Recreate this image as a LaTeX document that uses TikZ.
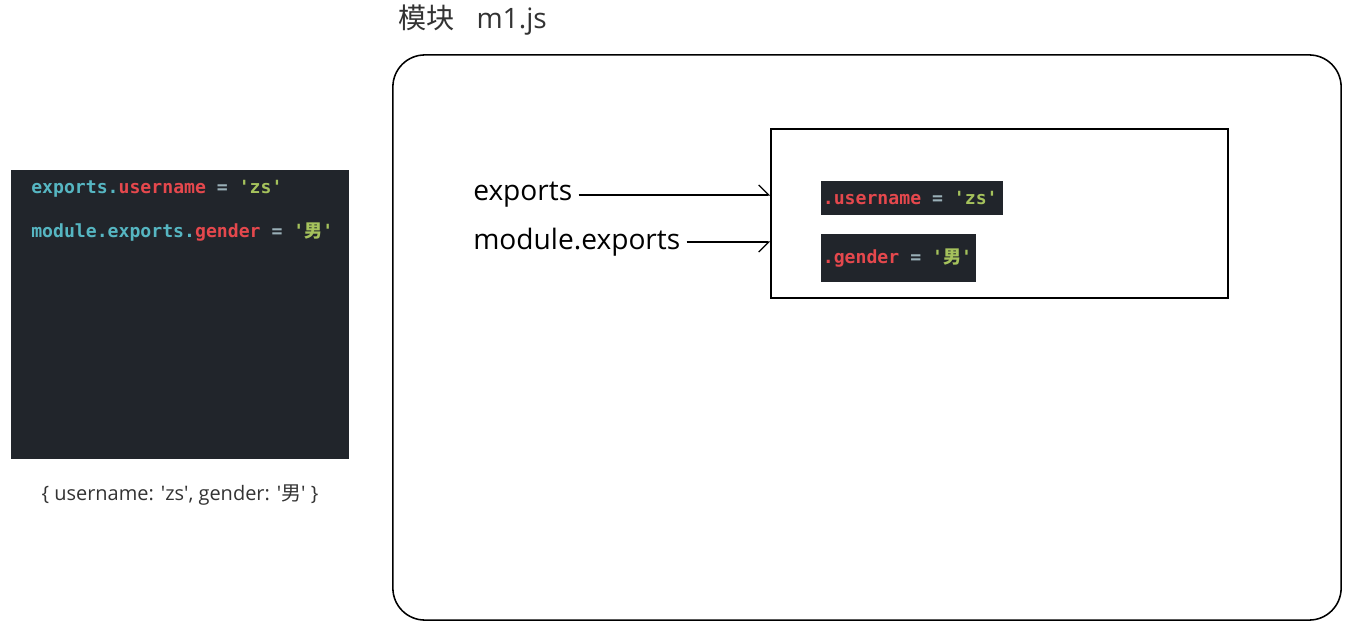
\documentclass[tikz,border=0pt]{standalone}
\usepackage{fontspec}
\setmainfont{Open Sans}
\setmonofont{DejaVu Sans Mono}
\newfontfamily\cjk{Noto Sans CJK SC}
\usepackage{xcolor}
\usetikzlibrary{arrows.meta, positioning}

\definecolor{codebg}{HTML}{21252B}
\definecolor{codeteal}{HTML}{56B6C2}
\definecolor{codered}{HTML}{E5484D}
\definecolor{codegreen}{HTML}{A5C25C}
\definecolor{codeop}{HTML}{9AB0B8}
\definecolor{labelgray}{HTML}{333333}

% small helpers for the coloured code text
\newcommand{\kw}[1]{\textcolor{codeteal}{#1}}
\newcommand{\prop}[1]{\textcolor{codered}{#1}}
\newcommand{\str}[1]{\textcolor{codegreen}{#1}}
\newcommand{\eqop}{\textcolor{codeop}{=}}
\newcommand{\mancj}{{\cjk\bfseries 男}}
\newcommand{\sq}{\textquotesingle}

\begin{document}
\begin{tikzpicture}[
    x=0.025cm, y=-0.025cm,
    code/.style={font=\ttfamily\bfseries\fontsize{12.9}{14}\selectfont, anchor=west, inner sep=0pt},
    chip/.style={code, fill=codebg, inner xsep=0.04cm},
    label/.style={font=\fontsize{20}{22}\selectfont, text=labelgray, anchor=west, inner sep=0pt},
    arrow/.style={line width=0.9pt}
]
    \useasboundingbox (0,0) rectangle (1353,629);

    % the code on the left
    \node[fill=codebg, minimum width=8.45cm, minimum height=7.225cm, inner sep=0pt] (panel) at (180,314.5) {};
    \node[code] (line1) at (31,189) {\kw{exports.}\prop{username} \eqop{} \str{'zs'}};
    \node[code] (line2) at (31,232) {\kw{module.exports.}\prop{gender} \eqop{} \str{'\mancj'}};
    \node[font=\fontsize{14.2}{16}\selectfont, text=labelgray] (result) at (180,495) {\{ username: \sq zs\sq, gender: \sq{\cjk 男}\sq\ \}};

    % the module m1.js
    \node[label] (title) at (398,20) {{\cjk 模块}\hspace{0.55cm}m1.js};
    \node[draw, line width=1.1pt, rounded corners=0.8cm, minimum width=23.7cm, minimum height=14.125cm] (module) at (867,337.5) {};
    \node[draw, line width=1.1pt, minimum width=11.425cm, minimum height=4.225cm] (obj) at (999.5,213.5) {};

    \node[chip, minimum height=0.85cm] (user) at (821,198) {\makebox[4.47cm][l]{\prop{.username} \eqop{} \str{'zs'}}};
    \node[chip, minimum height=1.2cm] (gend) at (821,258) {\makebox[3.795cm][l]{\prop{.gender} \eqop{} \str{'\mancj'}}};

    \node[label, text=black] (exp) at (473,195) {exports};
    \node[label, text=black] (mexp) at (473,242) {module.exports};

    \draw[arrow, -{Straight Barb[left, length=2.5mm]}] ([xshift=0.15cm]exp.east) -- (exp.east -| obj.west);
    \draw[arrow, -{Straight Barb[right, length=2.5mm]}] ([xshift=0.15cm]mexp.east) -- (mexp.east -| obj.west);
\end{tikzpicture}
\end{document}
